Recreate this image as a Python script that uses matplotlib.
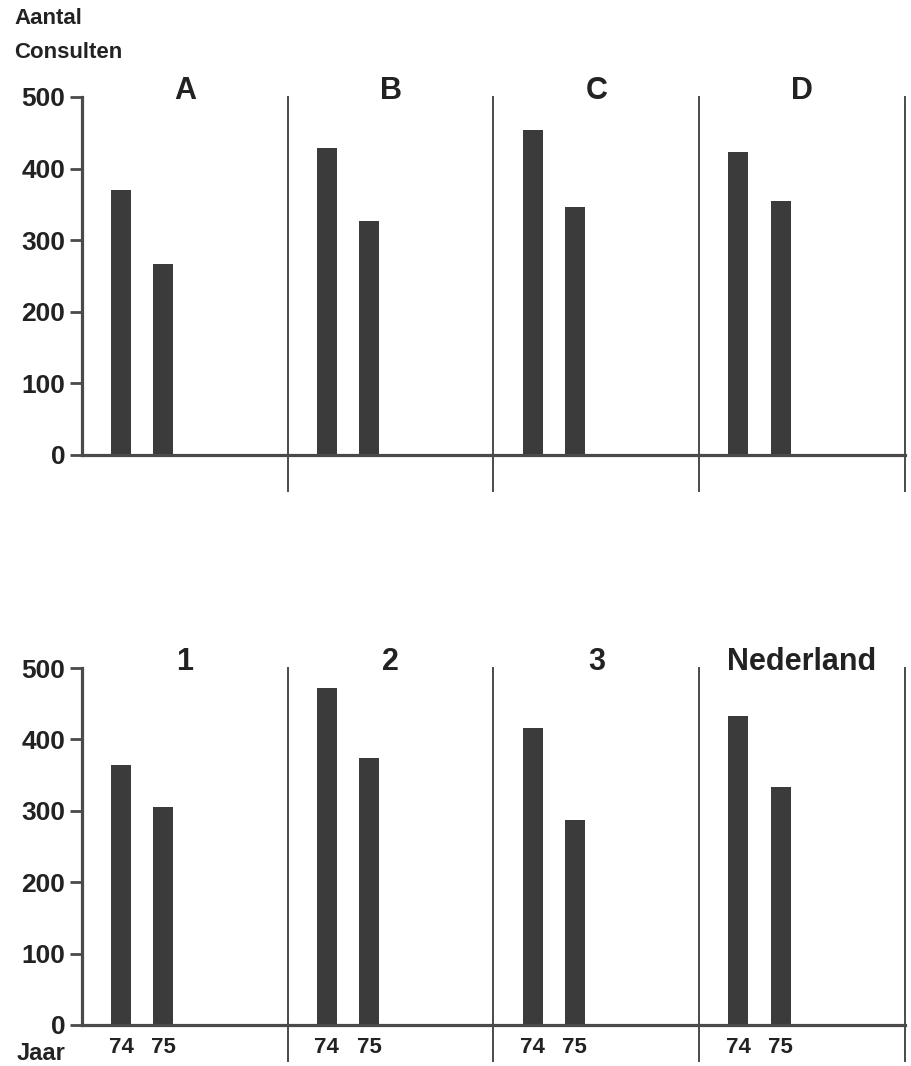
import matplotlib.pyplot as plt
import numpy as np

# Dados
regio_boven = ['A', 'B', 'C', 'D']
boven_74 = [370, 429, 454, 423]
boven_75 = [267, 327, 347, 355]

regio_onder = ['1', '2', '3', 'Nederland']
onder_74 = [364, 472, 416, 433]
onder_75 = [306, 374, 287, 333]

jaren = ['74', '75']
yticks = [0, 100, 200, 300, 400, 500]

bar_kleur = '#3b3b3b'
lijn_kleur = '#4a4a4a'

plt.rcParams['font.family'] = ['Liberation Sans', 'DejaVu Sans']
plt.rcParams['font.weight'] = 'bold'

fig = plt.figure(figsize=(9.12, 10.66), dpi=100)

links = 82 / 912
breed = (905 - 82) / 912
ax1 = fig.add_axes([links, 1 - 455 / 1066, breed, (455 - 97) / 1066])
ax2 = fig.add_axes([links, 1 - 1025 / 1066, breed, (1025 - 668) / 1066])

pos = np.array([0.19, 0.395])
bw = 0.097


def paneel(ax, regios, v74, v75, onder):
    for i, naam in enumerate(regios):
        ax.bar(i + pos, [v74[i], v75[i]], width=bw, color=bar_kleur, zorder=2)
        ax.text(i + 0.5, 509, naam, ha='center', va='center',
                fontsize=22, fontweight='bold', color='#222222')
        # scheidingslijn rechts van het paneel
        ax.plot([i + 1, i + 1], [-50, 500], color=lijn_kleur, lw=1.4,
                clip_on=False, zorder=3)
        if onder:
            for j, jr in enumerate(jaren):
                ax.text(i + pos[j], -31, jr, ha='center', va='center',
                        fontsize=16, fontweight='bold', color='#222222')
    ax.set_xlim(0, 4)
    ax.set_ylim(0, 500)
    ax.set_xticks([])
    ax.set_yticks(yticks)
    ax.set_yticklabels([str(t) for t in yticks], fontsize=19,
                       fontweight='bold', color='#222222')
    ax.tick_params(axis='y', direction='out', length=9, width=2,
                   color=lijn_kleur, pad=3)
    for s in ['top', 'right']:
        ax.spines[s].set_visible(False)
    for s in ['left', 'bottom']:
        ax.spines[s].set_color(lijn_kleur)
        ax.spines[s].set_linewidth(2.3)
        ax.spines[s].set_zorder(4)


paneel(ax1, regio_boven, boven_74, boven_75, False)
paneel(ax2, regio_onder, onder_74, onder_75, True)

fig.text(14 / 912, 1 - 18 / 1066, 'Aantal', fontsize=16, fontweight='bold',
         va='center', ha='left', color='#222222')
fig.text(14 / 912, 1 - 52 / 1066, 'Consulten', fontsize=16, fontweight='bold',
         va='center', ha='left', color='#222222')
fig.text(17 / 912, 1 - 1053 / 1066, 'Jaar', fontsize=17, fontweight='bold',
         va='center', ha='left', color='#222222')

plt.savefig('out.png', dpi=100)
